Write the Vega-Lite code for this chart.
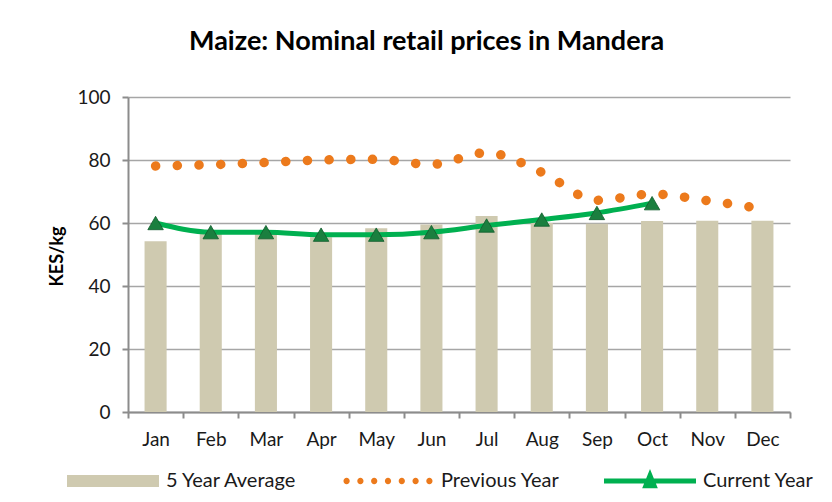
{
  "$schema": "https://vega.github.io/schema/vega-lite/v6.json",
  "width": 662,
  "height": 315,
  "autosize": {"type": "none"},
  "padding": {"left": 128, "top": 97, "right": 42, "bottom": 90},
  "background": "white",
  "config": {"font": "Lato", "view": {"stroke": null}},
  "title": {
    "text": "Maize: Nominal retail prices in Mandera",
    "font": "Lato",
    "fontSize": 27,
    "fontWeight": "bold",
    "color": "#000000",
    "anchor": "start",
    "frame": "group",
    "dx": 61,
    "dy": 32,
    "offset": 43,
    "baseline": "alphabetic"
  },
  "data": {
    "values": [
      {"month": "Jan", "series": "5 Year Average", "value": 54.2},
      {"month": "Feb", "series": "5 Year Average", "value": 56.5},
      {"month": "Mar", "series": "5 Year Average", "value": 56.5},
      {"month": "Apr", "series": "5 Year Average", "value": 55.5},
      {"month": "May", "series": "5 Year Average", "value": 58.3},
      {"month": "Jun", "series": "5 Year Average", "value": 59.5},
      {"month": "Jul", "series": "5 Year Average", "value": 62.2},
      {"month": "Aug", "series": "5 Year Average", "value": 60.0},
      {"month": "Sep", "series": "5 Year Average", "value": 59.8},
      {"month": "Oct", "series": "5 Year Average", "value": 60.6},
      {"month": "Nov", "series": "5 Year Average", "value": 60.7},
      {"month": "Dec", "series": "5 Year Average", "value": 60.7},
      {"month": "Jan", "series": "Previous Year", "value": 78.1},
      {"month": "Feb", "series": "Previous Year", "value": 78.5},
      {"month": "Mar", "series": "Previous Year", "value": 79.2},
      {"month": "Apr", "series": "Previous Year", "value": 80.0},
      {"month": "May", "series": "Previous Year", "value": 80.2},
      {"month": "Jun", "series": "Previous Year", "value": 78.6},
      {"month": "Jul", "series": "Previous Year", "value": 82.3},
      {"month": "Aug", "series": "Previous Year", "value": 76.1},
      {"month": "Sep", "series": "Previous Year", "value": 67.2},
      {"month": "Oct", "series": "Previous Year", "value": 69.2},
      {"month": "Nov", "series": "Previous Year", "value": 67.1},
      {"month": "Dec", "series": "Previous Year", "value": 64.5},
      {"month": "Jan", "series": "Current Year", "value": 60.0},
      {"month": "Feb", "series": "Current Year", "value": 57.1},
      {"month": "Mar", "series": "Current Year", "value": 57.1},
      {"month": "Apr", "series": "Current Year", "value": 56.3},
      {"month": "May", "series": "Current Year", "value": 56.3},
      {"month": "Jun", "series": "Current Year", "value": 57.1},
      {"month": "Jul", "series": "Current Year", "value": 59.2},
      {"month": "Aug", "series": "Current Year", "value": 61.1},
      {"month": "Sep", "series": "Current Year", "value": 63.2},
      {"month": "Oct", "series": "Current Year", "value": 66.3}
    ]
  },
  "encoding": {
    "x": {
      "field": "month",
      "type": "nominal",
      "sort": ["Jan", "Feb", "Mar", "Apr", "May", "Jun", "Jul", "Aug", "Sep", "Oct", "Nov", "Dec"],
      "scale": {"paddingInner": 0, "paddingOuter": 0},
      "axis": {
        "title": null,
        "labelAngle": 0,
        "tickBand": "extent",
        "grid": false,
        "domainColor": "#8c8c8c",
        "domainWidth": 2,
        "tickColor": "#8c8c8c",
        "tickWidth": 2,
        "tickSize": 6,
        "labelFont": "Lato",
        "labelFontSize": 19,
        "labelColor": "#1a1a1a",
        "labelPadding": 12
      }
    },
    "y": {
      "field": "value",
      "type": "quantitative",
      "scale": {"domain": [0, 100], "nice": false},
      "axis": {
        "title": "KES/kg",
        "titleFont": "Lato",
        "titleFontSize": 18,
        "titleFontWeight": "bold",
        "titleColor": "#000000",
        "titleAngle": 270,
        "titleX": -71,
        "titleY": 159,
        "titleAlign": "center",
        "titleBaseline": "middle",
        "values": [0, 20, 40, 60, 80, 100],
        "grid": true,
        "gridColor": "#a6a6a6",
        "gridWidth": 1.5,
        "domainColor": "#8c8c8c",
        "domainWidth": 2,
        "tickColor": "#8c8c8c",
        "tickWidth": 2,
        "tickSize": 6,
        "labelFont": "Lato",
        "labelFontSize": 19,
        "labelColor": "#1a1a1a",
        "labelPadding": 12
      }
    }
  },
  "layer": [
    {
      "transform": [{"filter": "datum.series === '5 Year Average'"}],
      "mark": {"type": "bar", "width": {"band": 0.4}},
      "encoding": {
        "color": {
          "field": "series",
          "type": "nominal",
          "scale": {
            "domain": ["5 Year Average", "Previous Year", "Current Year"],
            "range": ["#cfcab0", "#ec7a1c", "#00b050"]
          },
          "legend": {
            "orient": "none",
            "legendX": -61,
            "legendY": 338,
            "direction": "horizontal",
            "title": null,
            "padding": 0,
            "symbolSize": 8464,
            "symbolStrokeWidth": 0,
            "labelFont": "Lato",
            "labelFontSize": 20,
            "labelColor": "#1a1a1a",
            "labelOffset": 7,
            "columnPadding": 44,
            "encode": {
              "symbols": {
                "update": {
                  "shape": {"signal": "datum.value === '5 Year Average' ? 'M-1,-0.13H1V0.13H-1Z' : datum.value === 'Previous Year' ? 'M-0.968,0A0.068,0.068 0 1,0 -0.832,0A0.068,0.068 0 1,0 -0.968,0ZM-0.668,0A0.068,0.068 0 1,0 -0.532,0A0.068,0.068 0 1,0 -0.668,0ZM-0.368,0A0.068,0.068 0 1,0 -0.232,0A0.068,0.068 0 1,0 -0.368,0ZM-0.068,0A0.068,0.068 0 1,0 0.068,0A0.068,0.068 0 1,0 -0.068,0ZM0.232,0A0.068,0.068 0 1,0 0.368,0A0.068,0.068 0 1,0 0.232,0ZM0.532,0A0.068,0.068 0 1,0 0.668,0A0.068,0.068 0 1,0 0.532,0ZM0.832,0A0.068,0.068 0 1,0 0.968,0A0.068,0.068 0 1,0 0.832,0Z' : 'M-1,-0.055H1V0.055H-1ZM0,-0.26L0.17,0.16L-0.17,0.16Z'"},
                  "fill": {"signal": "scale('color', datum.value)"},
                  "stroke": {"value": "transparent"},
                  "opacity": {"value": 1}
                }
              }
            }
          }
        }
      }
    },
    {
      "transform": [{"filter": "datum.series === 'Previous Year'"}],
      "mark": {
        "type": "line",
        "strokeWidth": 9.5,
        "strokeDash": [0.1, 21.6],
        "strokeCap": "round",
        "interpolate": "monotone"
      },
      "encoding": {
        "color": {"field": "series", "type": "nominal", "legend": null}
      }
    },
    {
      "transform": [{"filter": "datum.series === 'Current Year'"}],
      "mark": {
        "type": "line",
        "strokeWidth": 5,
        "interpolate": "monotone"
      },
      "encoding": {
        "color": {"field": "series", "type": "nominal", "legend": null}
      }
    },
    {
      "transform": [{"filter": "datum.series === 'Current Year'"}],
      "mark": {
        "type": "point",
        "shape": "triangle-up",
        "filled": true,
        "size": 240,
        "fill": "#1b7f3f",
        "stroke": "#0f5a2b",
        "strokeWidth": 0.8,
        "opacity": 1
      },
      "encoding": {}
    }
  ]
}
